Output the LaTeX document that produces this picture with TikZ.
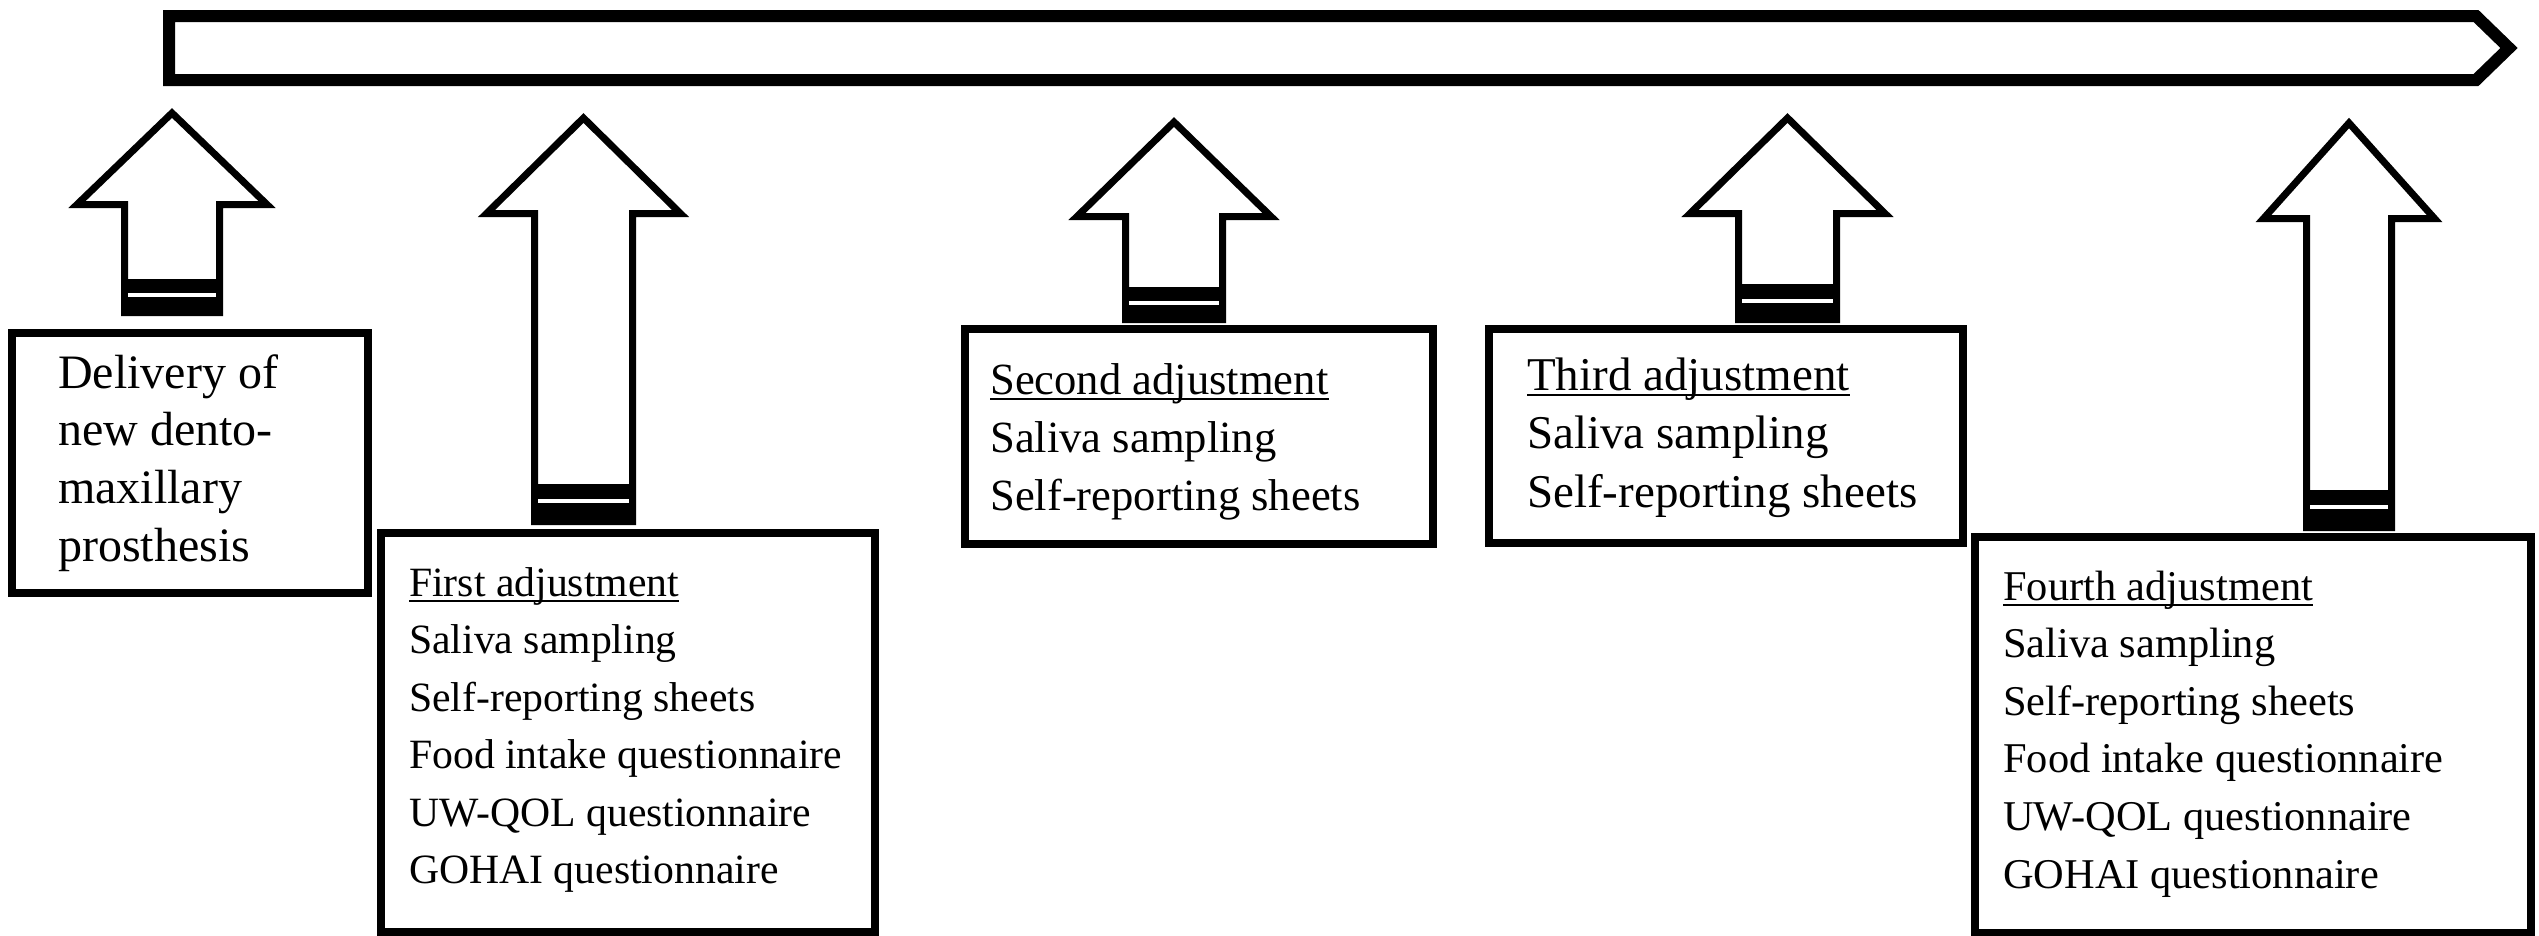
\documentclass[tikz,border=0pt]{standalone}
\usepackage{fontspec}
\setmainfont{Liberation Serif}
\newcommand{\FsOne}{\fontsize{48pt}{58pt}\selectfont}
\newcommand{\FsTwo}{\fontsize{41.7pt}{57pt}\selectfont}
\newcommand{\FsThree}{\fontsize{44.6pt}{58pt}\selectfont}
\newcommand{\FsFour}{\fontsize{47pt}{58pt}\selectfont}
\newcommand{\FsFive}{\fontsize{42.4pt}{58pt}\selectfont}
% #1 cx, #2 tip(outer), #3 head base(outer), #4 head half width(outer),
% #5 shaft half width(outer), #6 bottom(outer), #7 band top, #8 white line y
\newcommand{\UpArr}[8]{%
  \draw[arrowbody] ({#1-#5+3.5},{#6-3.5}) -- ({#1-#5+3.5},{#3-3.5}) -- ({#1-#4+7},{#3-3.5})
    -- ({#1},{#2+5}) -- ({#1+#4-7},{#3-3.5}) -- ({#1+#5-3.5},{#3-3.5}) -- ({#1+#5-3.5},{#6-3.5}) -- cycle;
  \fill[black] ({#1-#5},{#7}) rectangle ({#1+#5},{#6});
  \fill[white] ({#1-#5+7},{#8-2}) rectangle ({#1+#5-7},{#8+2});
}
\begin{document}
\begin{tikzpicture}[x=1pt,y=-1pt,line join=miter,
  arrowbody/.style={draw=black,fill=white,line width=7pt},
  box/.style={draw=black,fill=white,line width=8pt,inner sep=0pt,anchor=north west},
  tline/.style={draw=black,fill=white,line width=12pt},
  txt/.style={inner sep=0pt,anchor=base west},
  uline/.style={line width=2.5pt}]
\useasboundingbox (0,0) rectangle (2539,935);

% timeline
\draw[tline] (169,16) -- (2476,16) -- (2509,48) -- (2476,80) -- (169,80) -- cycle;

% up arrows
\UpArr{172}{108}{208}{102}{51}{316}{279}{295}
\UpArr{583.5}{113}{217}{104}{52.5}{525}{484}{500.5}
\UpArr{1174}{117}{220}{104}{52}{323}{287}{303}
\UpArr{1787.5}{113}{217}{104.5}{52.5}{323}{284}{301}
\UpArr{2349}{118}{222}{92.5}{46}{531}{490}{507}

% boxes
\node[box,minimum width=356pt,minimum height=260pt] (b1) at (8,329) {};
\node[box,minimum width=494pt,minimum height=399pt] (b2) at (377,529) {};
\node[box,minimum width=468pt,minimum height=215pt] (b3) at (961,325) {};
\node[box,minimum width=474pt,minimum height=214pt] (b4) at (1485,325) {};
\node[box,minimum width=556pt,minimum height=396pt] (b5) at (1971,533) {};

% box 1 text
\foreach \t [count=\i from 0] in {Delivery of, new dento-, maxillary, prosthesis}
  \node[txt,font=\FsOne] (t1-\i) at (58,{388+57.8*\i}) {\t};

% box 2 text
\node[txt,font=\FsTwo] (h2) at (409,596) {First adjustment};
\draw[uline] ([yshift=-5pt]h2.base west) -- ([yshift=-5pt]h2.base east);
\foreach \t [count=\i from 1] in {Saliva sampling, Self-reporting sheets, Food intake questionnaire, UW-QOL questionnaire, GOHAI questionnaire}
  \node[txt,font=\FsTwo] (t2-\i) at (409,{596+57.5*\i}) {\t};

% box 3 text
\node[txt,font=\FsThree] (h3) at (990,394) {Second adjustment};
\draw[uline] ([yshift=-5pt]h3.base west) -- ([yshift=-5pt]h3.base east);
\foreach \t [count=\i from 1] in {Saliva sampling, Self-reporting sheets}
  \node[txt,font=\FsThree] (t3-\i) at (990,{394+58*\i}) {\t};

% box 4 text
\node[txt,font=\FsFour] (h4) at (1527,390) {Third adjustment};
\draw[uline] ([yshift=-5pt]h4.base west) -- ([yshift=-5pt]h4.base east);
\foreach \t [count=\i from 1] in {Saliva sampling, Self-reporting sheets}
  \node[txt,font=\FsFour] (t4-\i) at (1527,{390+58.5*\i}) {\t};

% box 5 text
\node[txt,font=\FsFive] (h5) at (2003,600) {Fourth adjustment};
\draw[uline] ([yshift=-5pt]h5.base west) -- ([yshift=-5pt]h5.base east);
\foreach \t [count=\i from 1] in {Saliva sampling, Self-reporting sheets, Food intake questionnaire, UW-QOL questionnaire, GOHAI questionnaire}
  \node[txt,font=\FsFive] (t5-\i) at (2003,{600+57.6*\i}) {\t};
\end{tikzpicture}
\end{document}
